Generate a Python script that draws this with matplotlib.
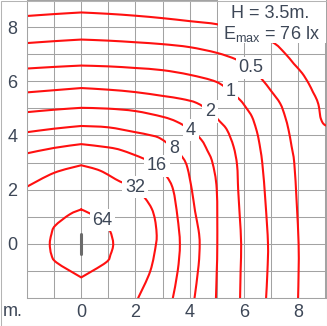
import matplotlib
matplotlib.use('Agg')
import matplotlib.pyplot as plt
from matplotlib.patches import Rectangle, PathPatch
from matplotlib.path import Path

plt.rcParams['font.family'] = ['Liberation Sans', 'DejaVu Sans']
plt.rcParams['mathtext.fontset'] = 'custom'
plt.rcParams['mathtext.rm'] = 'Liberation Sans'
plt.rcParams['mathtext.it'] = 'Liberation Sans:italic'

# ---- data (metres) ----
mount_height = 3.5
e_max = 76

x025 = [-2, -1, 0, 1, 2, 3, 4, 5.04, 6.0, 7.04, 7.5, 7.84, 8.15, 8.39, 8.55, 8.7, 8.78, 8.82, 8.9, 9.0, 9.2]
y025 = [8.41, 8.48, 8.54, 8.49, 8.42, 8.33, 8.22, 8.1, 7.85, 7.45, 7.05, 6.65, 6.3, 5.92, 5.6, 5.3, 5.0, 4.69, 4.48, 4.38, 4.3]

x05 = [-2, -1, 0, 1, 2, 3, 4, 5, 5.73, 6.26, 6.67, 7.0, 7.34, 7.52, 7.65, 7.76, 7.86, 7.95, 8.02, 8.02, 8.0]
y05 = [7.41, 7.48, 7.54, 7.5, 7.44, 7.37, 7.26, 7.05, 6.8, 6.5, 6.07, 5.65, 5.18, 4.7, 4.2, 3.6, 2.98, 1.5, 0, -1, -2]

x1 = [-2, -1, 0, 1, 2, 3, 4, 4.98, 5.5, 5.87, 6.1, 6.3, 6.45, 6.55, 6.68, 6.8, 6.89, 6.87, 6.82]
y1 = [6.47, 6.53, 6.58, 6.55, 6.49, 6.41, 6.24, 5.98, 5.62, 5.3, 5.0, 4.69, 4.25, 3.83, 2.98, 1.5, 0, -1, -2]

x2 = [-2, -1, 0, 1, 2, 3, 3.7, 4.26, 4.75, 5.12, 5.38, 5.62, 5.75, 5.79, 5.85, 5.9, 5.88, 5.86]
y2 = [5.59, 5.67, 5.75, 5.69, 5.6, 5.46, 5.35, 5.2, 4.88, 4.51, 4.2, 3.59, 2.9, 2.0, 1.0, 0, -1, -2]

x4 = [-2, -1, 0, 1, 2, 3, 3.52, 4.05, 4.44, 4.65, 4.84, 5.0, 5.02, 5.0, 4.97]
y4 = [4.86, 4.95, 5.02, 4.99, 4.9, 4.69, 4.51, 4.2, 3.83, 3.45, 3.0, 2.0, 0, -1, -2]

x8 = [-2, -1, 0, 1, 2, 2.5, 2.9, 3.42, 3.76, 3.92, 4.08, 4.2, 4.33, 4.37, 4.33, 4.18]
y8 = [4.12, 4.25, 4.35, 4.3, 4.12, 4.02, 3.9, 3.52, 3.16, 2.8, 2.0, 1.2, 0.5, 0, -0.8, -2]

x16 = [-2, -1, 0, 1, 1.5, 2.29, 2.79, 3.15, 3.39, 3.55, 3.64, 3.56, 3.38]
y16 = [3.34, 3.54, 3.68, 3.56, 3.45, 3.15, 2.88, 2.49, 2.0, 1.0, 0, -1, -2]

x32 = [-2, -1, 0, 0.7, 1.43, 1.98, 2.35, 2.6, 2.72, 2.78, 2.76, 2.55, 2.1]
y32 = [2.11, 2.62, 2.9, 2.7, 2.3, 2.09, 1.69, 1.3, 0.9, 0.4, 0, -1.0, -2]

x64 = [0, 0.26, 0.78, 1.06, 1.18, 1.08, 0.91, 0, -0.91, -1.1, -1.16, -1.1, -0.97, -0.42, 0]
y64 = [1.27, 1.15, 0.87, 0.48, 0, -0.4, -0.69, -1.24, -0.69, -0.4, 0, 0.35, 0.66, 1.09, 1.27]

label_text = ['64', '32', '16', '8', '4', '2', '1', '0.5']
label_x = [0.78, 1.98, 2.79, 3.42, 4.05, 4.75, 5.5, 6.26]
label_y = [0.87, 2.09, 2.88, 3.52, 4.2, 4.88, 5.62, 6.5]

tick_values = [0, 2, 4, 6, 8]
luminaire_x = [0, 0]
luminaire_y = [-0.38, 0.35]

# ---- drawing ----
TXT = '#3d4757'
GRID = '#a3a3a3'
RED = '#ff1010'


def smooth_path(xs, ys):
    """Cubic Bezier path through the read points (Catmull-Rom tangents);
    points lying on x = 0 (below the luminaire axis) are kept as sharp vertices."""
    pts = list(zip(xs, ys))
    n = len(pts)
    closed = pts[0] == pts[-1]
    sharp = [p[0] == 0 for p in pts]
    verts = [pts[0]]
    codes = [Path.MOVETO]
    for i in range(n - 1):
        p1, p2 = pts[i], pts[i + 1]
        if sharp[i]:
            p0 = p1
        elif i > 0:
            p0 = pts[i - 1]
        else:
            p0 = pts[-2] if closed else p1
        if sharp[i + 1]:
            p3 = p2
        elif i + 2 < n:
            p3 = pts[i + 2]
        else:
            p3 = pts[1] if closed else p2
        c1 = (p1[0] + (p2[0] - p0[0]) / 6, p1[1] + (p2[1] - p0[1]) / 6)
        c2 = (p2[0] - (p3[0] - p1[0]) / 6, p2[1] - (p3[1] - p1[1]) / 6)
        verts += [c1, c2, p2]
        codes += [Path.CURVE4] * 3
    return Path(verts, codes)


fig = plt.figure(figsize=(3.27, 3.26), dpi=100)
ax = fig.add_axes([27 / 327, 28 / 326, 299 / 327, 298 / 326])
ax.set_xlim(-2, 9.03)
ax.set_ylim(-2, 9)

ax.set_xticks(range(-2, 10))
ax.set_yticks(range(-2, 10))
ax.set_xticklabels([str(v) if v in tick_values else '' for v in range(-2, 10)])
ax.set_yticklabels([str(v) if v in tick_values else '' for v in range(-2, 10)])
ax.tick_params(length=0, labelsize=13, colors=TXT)
ax.tick_params(axis='x', pad=4)
ax.tick_params(axis='y', pad=7)
ax.grid(True, color=GRID, lw=0.75, zorder=0)
ax.set_axisbelow(True)
for s in ax.spines.values():
    s.set_color(GRID)
    s.set_linewidth(0.75)

for xs, ys in [(x025, y025), (x05, y05), (x1, y1), (x2, y2), (x4, y4),
               (x8, y8), (x16, y16), (x32, y32), (x64, y64)]:
    ax.add_patch(PathPatch(smooth_path(xs, ys), fill=False, ec=RED, lw=1.5,
                           zorder=2, joinstyle='round', capstyle='round'))

for t, lx, ly in zip(label_text, label_x, label_y):
    ax.text(lx, ly, t, ha='center', va='center', fontsize=13, color=TXT, zorder=5,
            bbox=dict(boxstyle='square,pad=0.15', fc='white', ec='none'))

ax.plot(luminaire_x, luminaire_y, color='#6a6a6a', lw=2.2, solid_capstyle='round', zorder=3)

# info box
ax.add_patch(Rectangle((5.04, 7.43), 4.2, 1.8, fc='white', ec='none', zorder=4))
ax.text(6.97, 8.5, f'H = {mount_height}m.', ha='center', va='center', fontsize=13, color=TXT, zorder=5)
ax.text(7.0, 7.75, r'E$_{\mathrm{max}}$' + f' = {e_max} lx', ha='center', va='center',
        fontsize=13, color=TXT, zorder=5)

fig.text(13 / 327, 1 - 312 / 326, 'm.', ha='center', va='center', fontsize=13, color=TXT)
fig.patches.append(Rectangle((0.5 / 327, 0.5 / 326), 326 / 327, 325 / 326, transform=fig.transFigure,
                             fill=False, ec='#b4b4b4', lw=0.75))

fig.savefig('out.png', dpi=100)
